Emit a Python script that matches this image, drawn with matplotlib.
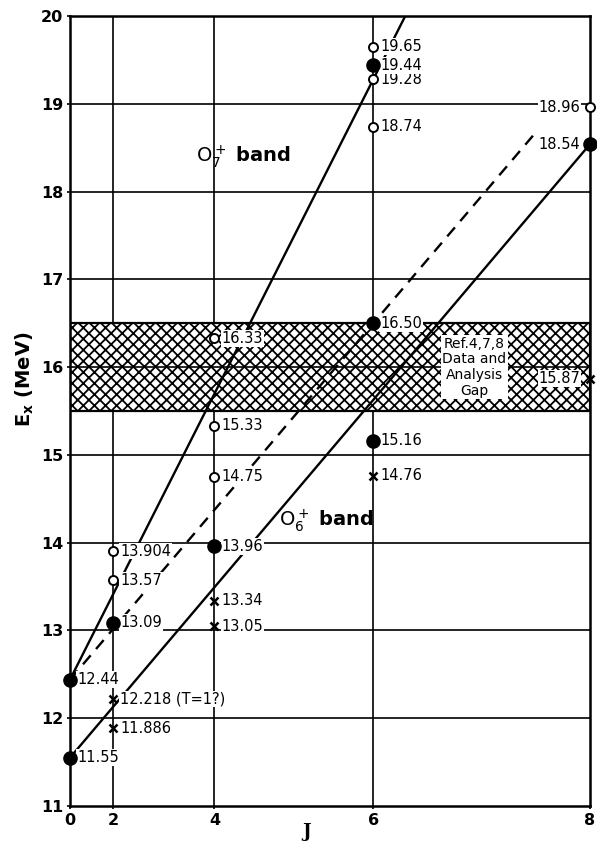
import numpy as np
import matplotlib
matplotlib.use("Agg")
import matplotlib.pyplot as plt

# levels (J, Ex in MeV)
J_OPEN = [2, 2, 4, 4, 4, 6, 6, 6, 8]
E_OPEN = [13.904, 13.57, 16.33, 15.33, 14.75, 19.65, 19.28, 18.74, 18.96]
L_OPEN = ["13.904", "13.57", "16.33", "15.33", "14.75", "19.65", "19.28", "18.74", "18.96"]

J_FILLED = [0, 0, 2, 4, 6, 6, 6, 8]
E_FILLED = [12.44, 11.55, 13.09, 13.96, 19.44, 16.50, 15.16, 18.54]
L_FILLED = ["12.44", "11.55", "13.09", "13.96", "19.44", "16.50", "15.16", "18.54"]

J_CROSS = [2, 2, 4, 4, 6, 8]
E_CROSS = [12.218, 11.886, 13.34, 13.05, 14.76, 15.87]
L_CROSS = ["12.218 (T=1?)", "11.886", "13.34", "13.05", "14.76", "15.87"]

# band lines: two anchor points each, (J, Ex)
O7_J, O7_E = [0, 6], [12.44, 19.28]
O6_J, O6_E = [0, 8], [11.55, 18.54]
MID_J, MID_E = [0, 6], [12.44, 16.50]

GAP_LO, GAP_HI = 15.5, 16.5
J_TICKS = [0, 2, 4, 6, 8]


def jj(j):
    j = np.asarray(j, dtype=float)
    return j * (j + 1)


def band_line(js, es, x_end):
    x0, x1 = jj(js)
    slope = (es[1] - es[0]) / (x1 - x0)
    xs = np.array([x0, x_end])
    return xs, es[0] + slope * (xs - x0)


plt.rcParams['hatch.linewidth'] = 1.3
fig = plt.figure(figsize=(5.97, 8.48), dpi=100)
ax = fig.add_axes([70 / 597, 42 / 848, 520 / 597, 790 / 848])
ax.set_xlim(0, 72)
ax.set_ylim(11, 20)

# grid
for y in range(12, 20):
    ax.axhline(y, color='black', lw=1.2, zorder=1)
for x in jj(J_TICKS[1:-1]):
    ax.axvline(x, color='black', lw=1.2, zorder=1)

# data gap band
ax.axhspan(GAP_LO, GAP_HI, facecolor='white', edgecolor='black', hatch='xxx',
           lw=1.6, zorder=1.5)
ax.axhline(16, color='black', lw=1.2, zorder=1.6)

# band lines
xs, ys = band_line(O7_J, O7_E, 50)
ax.plot(xs, ys, color='black', lw=1.7, zorder=2)
xs, ys = band_line(O6_J, O6_E, 72)
ax.plot(xs, ys, color='black', lw=1.7, zorder=2)
xs, ys = band_line(MID_J, MID_E, 64.5)
ax.plot(xs, ys, color='black', lw=1.7, ls=(0, (5, 3.5)), zorder=2)

# markers
ax.plot(jj(J_OPEN), E_OPEN, 'o', ms=6.5, mfc='white', mec='black', mew=1.4,
        zorder=5, clip_on=False)
ax.plot(jj(J_FILLED), E_FILLED, 'o', ms=9.5, color='black', zorder=5, clip_on=False)
ax.plot(jj(J_CROSS), E_CROSS, 'x', ms=5.5, color='black', mew=1.8, zorder=5, clip_on=False)

box = dict(facecolor='white', edgecolor='none', pad=0.6)


def label(j, e, s):
    if j == 8:
        ax.annotate(s, (jj(j), e), xytext=(-7, 0), textcoords='offset points',
                    ha='right', va='center', fontsize=10.5, bbox=box, zorder=4)
    else:
        ax.annotate(s, (jj(j), e), xytext=(5, 0), textcoords='offset points',
                    ha='left', va='center', fontsize=10.5, bbox=box, zorder=4)


for j, e, s in zip(J_OPEN, E_OPEN, L_OPEN):
    label(j, e, s)
for j, e, s in zip(J_FILLED, E_FILLED, L_FILLED):
    label(j, e, s)
for j, e, s in zip(J_CROSS, E_CROSS, L_CROSS):
    label(j, e, s)

ax.text(56, 16.0, "Ref.4,7,8\nData and\nAnalysis\nGap", ha='center', va='center',
        fontsize=10, linespacing=1.15, bbox=dict(facecolor='white', edgecolor='none', pad=1),
        zorder=4)

ax.text(24, 18.4, r"$\mathrm{O}_7^+$ band", fontsize=14, fontweight='bold',
        ha='center', va='center', zorder=4)
ax.text(35.5, 14.25, r"$\mathrm{O}_6^+$ band", fontsize=14, fontweight='bold',
        ha='center', va='center', zorder=4)

# axes
ax.set_xticks(jj(J_TICKS))
ax.set_xticklabels([str(j) for j in J_TICKS])
ax.set_yticks(range(11, 21))
ax.tick_params(length=2, width=1.2, labelsize=11.5, pad=3)
for t in ax.get_xticklabels() + ax.get_yticklabels():
    t.set_fontweight('bold')
for sp in ax.spines.values():
    sp.set_linewidth(1.8)

ax.set_ylabel(r"$\mathbf{E_x}$ (MeV)", fontsize=14, fontweight='bold')
ax.yaxis.set_label_coords(-0.065, 0.54)
ax.set_xlabel("J", fontsize=13, fontweight='bold', family='serif')
ax.xaxis.set_label_coords(0.455, -0.022)

fig.savefig("out.png", dpi=100)
